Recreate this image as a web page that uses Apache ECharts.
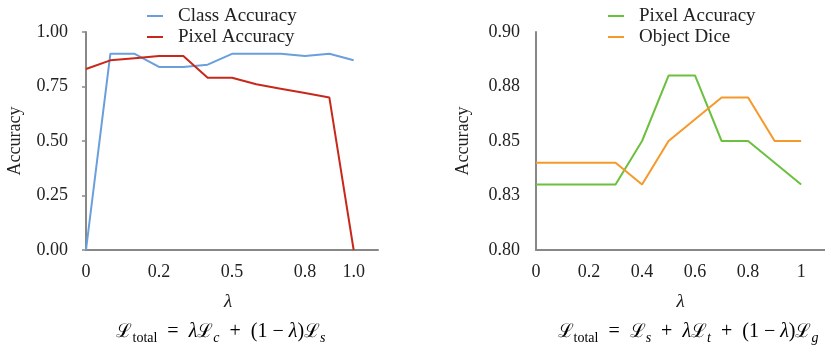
<!DOCTYPE html>
<html>
<head>
<meta charset="utf-8">
<script src="https://cdn.jsdelivr.net/npm/echarts@6/dist/echarts.min.js"></script>
<style>html,body{margin:0;padding:0;background:#fff}#c{width:825px;height:345px}</style>
</head>
<body>
<div id="c"></div>
<script>
// Left chart data
var leftCategories = ['0', '', '', '0.2', '', '', '0.5', '', '', '0.8', '', '1.0', ''];
var classAccuracy = [0.00, 0.90, 0.90, 0.84, 0.84, 0.85, 0.90, 0.90, 0.90, 0.89, 0.90, 0.87];
var pixelAccuracyLeft = [0.83, 0.87, 0.88, 0.89, 0.89, 0.79, 0.79, 0.76, 0.74, 0.72, 0.70, 0.00];
var leftYTickLabels = ['0.00', '0.25', '0.50', '0.75', '1.00'];

// Right chart data
var lambdaValues = [0, 0.1, 0.2, 0.3, 0.4, 0.5, 0.6, 0.7, 0.8, 0.9, 1.0];
var pixelAccuracyRight = [0.83, 0.83, 0.83, 0.83, 0.85, 0.88, 0.88, 0.85, 0.85, 0.84, 0.83];
var objectDice = [0.84, 0.84, 0.84, 0.84, 0.83, 0.85, 0.86, 0.87, 0.87, 0.85, 0.85];
var rightYTickLabels = ['0.80', '0.83', '0.85', '0.88', '0.90'];
var rightXTickLabels = ['0', '0.2', '0.4', '0.6', '0.8', '1'];

var FONT = '"Liberation Serif", "DejaVu Serif", serif';
var TXT = '#222';
var AX = '#888';

function pairs(xs, ys) { return xs.map(function (x, i) { return [x, ys[i]]; }); }

var richMain = {
  a: { fontFamily: FONT, fontSize: 20, color: TXT, lineHeight: 26 },
  i: { fontFamily: FONT, fontSize: 20, fontStyle: 'italic', color: TXT, lineHeight: 26 },
  L: { fontFamily: '"DejaVu Serif", serif', fontSize: 19, color: TXT, lineHeight: 26 },
  sub: { fontFamily: FONT, fontSize: 14, color: TXT, lineHeight: 12, verticalAlign: 'bottom' },
  subi: { fontFamily: FONT, fontSize: 14, fontStyle: 'italic', color: TXT, lineHeight: 12, verticalAlign: 'bottom' }
};

var chart = echarts.init(document.getElementById('c'), null, { renderer: 'canvas' });
chart.setOption({
  backgroundColor: '#fff',
  animation: false,
  textStyle: { fontFamily: FONT },
  legend: [
    {
      orient: 'vertical', left: 142, top: 1, itemGap: 1,
      icon: 'rect', itemWidth: 16, itemHeight: 2,
      textStyle: { fontFamily: FONT, fontSize: 19, color: TXT, lineHeight: 20, padding: [0, 0, 0, 10] },
      data: ['Class Accuracy', 'Pixel Accuracy']
    },
    {
      orient: 'vertical', left: 603, top: 1, itemGap: 1,
      icon: 'rect', itemWidth: 16, itemHeight: 2,
      textStyle: { fontFamily: FONT, fontSize: 19, color: TXT, lineHeight: 20, padding: [0, 0, 0, 10] },
      data: ['Pixel Accuracy ', 'Object Dice']
    }
  ],
  grid: [
    { left: 86, top: 32, width: 292, height: 218 },
    { left: 536, top: 32, width: 289, height: 218 }
  ],
  xAxis: [
    {
      gridIndex: 0, type: 'category', data: leftCategories, boundaryGap: false,
      axisLine: { lineStyle: { color: AX, width: 2 } },
      axisTick: { show: false },
      axisLabel: { interval: 0, fontFamily: FONT, fontSize: 18, color: TXT, margin: 13 },
      splitLine: { show: false },
      name: 'λ', nameLocation: 'middle', nameGap: 42,
      nameTextStyle: { fontFamily: FONT, fontSize: 19, fontStyle: 'italic', color: TXT, padding: [0, 8, 0, 0] }
    },
    {
      gridIndex: 1, type: 'value', min: 0, max: 1.09, interval: 0.2,
      axisLine: { lineStyle: { color: AX, width: 2 } },
      axisTick: { show: false },
      axisLabel: {
        fontFamily: FONT, fontSize: 18, color: TXT, margin: 13, showMaxLabel: false,
        formatter: function (v) { var k = Math.round(v / 0.2); return rightXTickLabels[k] || ''; }
      },
      splitLine: { show: false },
      name: 'λ', nameLocation: 'middle', nameGap: 42,
      nameTextStyle: { fontFamily: FONT, fontSize: 19, fontStyle: 'italic', color: TXT, padding: [0, 0, 0, 0] }
    }
  ],
  yAxis: [
    {
      gridIndex: 0, type: 'value', min: 0, max: 1, interval: 0.25,
      axisLine: { show: true, lineStyle: { color: AX, width: 2 } },
      axisTick: { show: true, length: 4, lineStyle: { color: AX, width: 1.5 } },
      axisLabel: {
        fontFamily: FONT, fontSize: 18, color: TXT, margin: 18,
        formatter: function (v) { return leftYTickLabels[Math.round(v / 0.25)]; }
      },
      splitLine: { show: false },
      name: 'Accuracy', nameLocation: 'middle', nameGap: 62, nameRotate: 90,
      nameTextStyle: { fontFamily: FONT, fontSize: 18, color: TXT }
    },
    {
      gridIndex: 1, type: 'value', min: 0.8, max: 0.9, interval: 0.025,
      axisLine: { show: true, lineStyle: { color: AX, width: 2 } },
      axisTick: { show: false },
      axisLabel: {
        fontFamily: FONT, fontSize: 18, color: TXT, margin: 16,
        formatter: function (v) { return rightYTickLabels[Math.round((v - 0.8) / 0.025)]; }
      },
      splitLine: { show: false },
      name: 'Accuracy', nameLocation: 'middle', nameGap: 64, nameRotate: 90,
      nameTextStyle: { fontFamily: FONT, fontSize: 18, color: TXT }
    }
  ],
  series: [
    {
      name: 'Class Accuracy', type: 'line', xAxisIndex: 0, yAxisIndex: 0,
      data: classAccuracy, symbol: 'none', color: '#6a9fdc',
      lineStyle: { width: 2, color: '#6a9fdc' }
    },
    {
      name: 'Pixel Accuracy', type: 'line', xAxisIndex: 0, yAxisIndex: 0,
      data: pixelAccuracyLeft, symbol: 'none', color: '#c8281a',
      lineStyle: { width: 2, color: '#c8281a' }
    },
    {
      name: 'Pixel Accuracy ', type: 'line', xAxisIndex: 1, yAxisIndex: 1,
      data: pairs(lambdaValues, pixelAccuracyRight), symbol: 'none', color: '#6cc040',
      lineStyle: { width: 2, color: '#6cc040' }
    },
    {
      name: 'Object Dice', type: 'line', xAxisIndex: 1, yAxisIndex: 1,
      data: pairs(lambdaValues, objectDice), symbol: 'none', color: '#f59a2a',
      lineStyle: { width: 2, color: '#f59a2a' }
    }
  ],
  graphic: [
    {
      type: 'text', x: 221, y: 332,
      style: {
        text: '{L|ℒ}{sub|total}{a|  =  }{i|λ}{L|ℒ}{subi|c}{a|  +  (1 − }{i|λ}{a|)}{L|ℒ}{subi|s}',
        rich: richMain, align: 'center', verticalAlign: 'middle'
      }
    },
    {
      type: 'text', x: 688, y: 332,
      style: {
        text: '{L|ℒ}{sub|total}{a|  =  }{L|ℒ}{subi|s}{a|  +  }{i|λ}{L|ℒ}{subi|t}{a|  +  (1 − }{i|λ}{a|)}{L|ℒ}{subi|g}',
        rich: richMain, align: 'center', verticalAlign: 'middle'
      }
    }
  ]
});
</script>
</body>
</html>
